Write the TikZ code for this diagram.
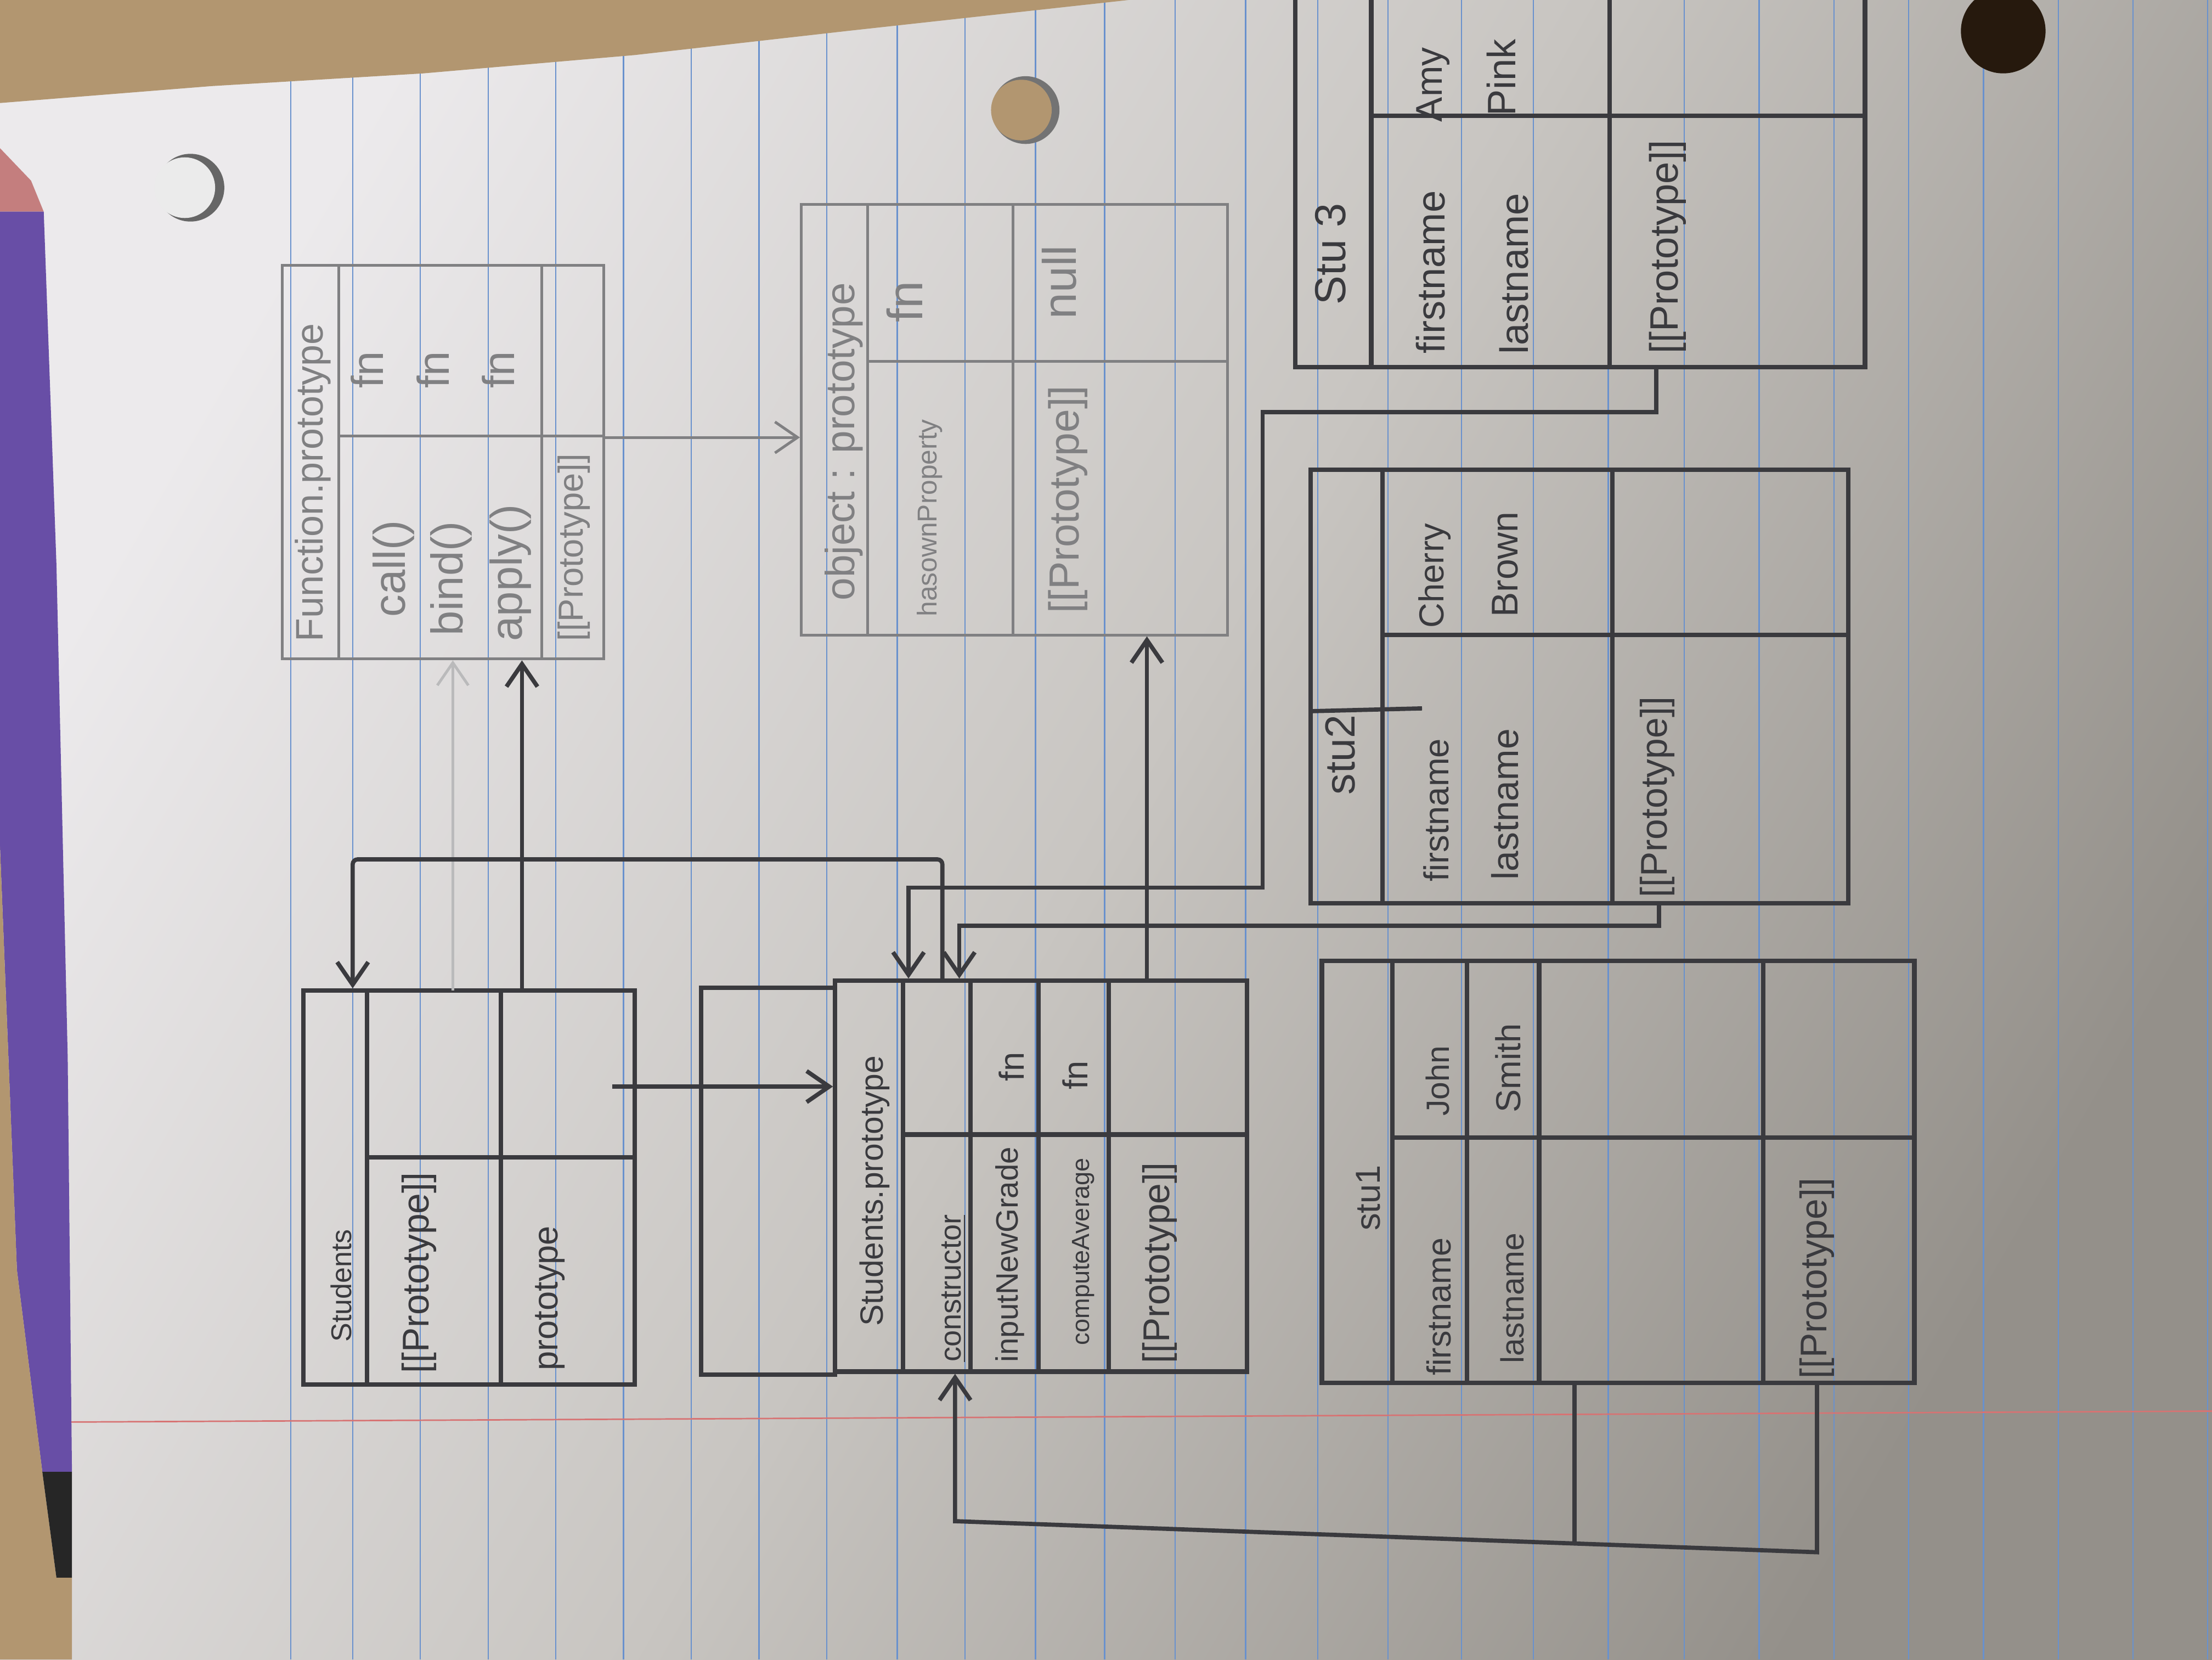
\documentclass[tikz,border=0pt]{standalone}
\usepackage{fontspec}
\setmainfont{Liberation Sans}
\usetikzlibrary{positioning,fit,arrows.meta}
\definecolor{pencil}{RGB}{58,58,62}
\definecolor{pencillight}{RGB}{128,128,130}
\definecolor{paperlight}{RGB}{236,234,236}
\definecolor{papermid}{RGB}{200,197,193}
\definecolor{paperdark}{RGB}{148,144,138}
\definecolor{rulecolor}{RGB}{105,145,205}
\definecolor{margincolor}{RGB}{215,115,115}
\definecolor{deskcolor}{RGB}{178,150,112}
\definecolor{foldercolor}{RGB}{104,78,166}
\definecolor{salmoncolor}{RGB}{196,126,126}
\newcommand{\hand}[1]{\fontsize{#1}{#1}\selectfont}

\begin{document}
\begin{tikzpicture}[
    x=0.2mm, y=-0.2mm,
    cell/.style={draw=pencil, line width=1.8pt, inner sep=0pt},
    lcell/.style={draw=pencillight, line width=1.1pt, inner sep=0pt},
    lbl/.style={rotate=90, text=pencil, inner sep=0pt, font=\hand{14}},
    llbl/.style={lbl, text=pencillight},
    link/.style={draw=pencil, line width=1.7pt},
    arrow/.style={-{Straight Barb[length=3.2mm, width=4.4mm]}, draw=pencil, line width=1.7pt},
    larrow/.style={arrow, draw=pencillight, line width=1.1pt},
    fadedarrow/.style={arrow, draw=pencil!35, line width=1.1pt},
    rule/.style={draw=rulecolor, line width=0.5pt}
]

% Paper, desk and folder
\useasboundingbox (0,0) rectangle (1568,1176);
\clip (0,0) rectangle (1568,1176);
\shade[top color=paperlight, bottom color=paperdark, middle color=papermid, shading angle=60] (0,0) rectangle (1568,1176);
\foreach \rx in {206,250,298,346,394,442,490,538,586,636,684,734,783,833,883,934,984,1036,1087,1140,1194,1247,1300,1353,1406,1459,1512,1565}
    \draw[rule] (\rx,0) -- (\rx,1176);
\draw[margincolor, line width=0.6pt] (0,1008) -- (1568,1000);
\fill[deskcolor] (0,0) -- (800,0) -- (600,22) -- (450,39) -- (300,52) -- (150,61) -- (0,73) -- cycle;
\fill[salmoncolor] (0,105) -- (22,128) -- (31,150) -- (0,150) -- cycle;
\fill[foldercolor] (0,150) -- (31,150) -- (40,400) -- (48,750) -- (51,1043) -- (30,1043) -- (12,900) -- (0,600) -- cycle;
\fill[deskcolor] (0,600) -- (12,900) -- (30,1043) -- (40,1118) -- (51,1118) -- (51,1176) -- (0,1176) -- cycle;
\fill[black!85] (30,1043) -- (51,1043) -- (51,1118) -- (40,1118) -- cycle;
\fill[black!60] (135,133) circle[radius=4.8mm];
\fill[black!8] (131,133) circle[radius=4.3mm];
\fill[black!55] (727,78) circle[radius=4.8mm];
\fill[deskcolor] (724,78) circle[radius=4.3mm];
\fill[black!80!brown] (1420,22) circle[radius=6mm];

% Function.prototype
\node[lcell, fit={(200,188) (240,467)}] (fp_head) {};
\node[lcell, fit={(240,188) (384,309)}] (fp_fn_val) {};
\node[lcell, fit={(240,309) (384,467)}] (fp_fn_key) {};
\node[lcell, fit={(384,188) (428,309)}] (fp_proto_val) {};
\node[lcell, fit={(384,309) (428,467)}] (fp_proto_key) {};
\node[llbl, font=\hand{15.5}] (fp_title) at (222,342) {Function.prototype};
\node[llbl, font=\hand{18}] (fp_call_fn) at (260,262) {fn};
\node[llbl, font=\hand{18}] (fp_bind_fn) at (307,262) {fn};
\node[llbl, font=\hand{18}] (fp_apply_fn) at (353,262) {fn};
\node[llbl, font=\hand{18}] (fp_call) at (279,403) {call()};
\node[llbl, font=\hand{18}] (fp_bind) at (320,410) {bind()};
\node[llbl, font=\hand{18}] (fp_apply) at (362,406) {apply()};
\node[llbl, font=\hand{14}] (fp_proto) at (407,388) {[[Prototype]]};

% Object.prototype
\node[lcell, fit={(568,145) (615,450)}] (op_head) {};
\node[lcell, fit={(615,145) (718,256)}] (op_has_val) {};
\node[lcell, fit={(615,256) (718,450)}] (op_has_key) {};
\node[lcell, fit={(718,145) (870,256)}] (op_proto_val) {};
\node[lcell, fit={(718,256) (870,450)}] (op_proto_key) {};
\node[llbl, font=\hand{16.5}] (op_title) at (598,313) {object : prototype};
\node[llbl, font=\hand{20}] (op_has_fn) at (641,214) {fn};
\node[llbl, font=\hand{11}] (op_has) at (659,367) {hasownProperty};
\node[llbl, font=\hand{19}] (op_null) at (751,200) {null};
\node[llbl, font=\hand{17}] (op_proto) at (757,354) {[[Prototype]]};

% Students
\node[cell, fit={(215,702) (260,981)}] (st_head) {};
\node[cell, fit={(260,702) (355,820)}] (st_proto_val) {};
\node[cell, fit={(260,820) (355,981)}] (st_proto_key) {};
\node[cell, fit={(355,702) (450,820)}] (st_prop_val) {};
\node[cell, fit={(355,820) (450,981)}] (st_prop_key) {};
\node[lbl, font=\hand{11.5}] (st_title) at (242,911) {Students};
\node[lbl, font=\hand{15}] (st_proto) at (297,902) {[[Prototype]]};
\node[lbl, font=\hand{14}] (st_prop) at (390,920) {prototype};

% Students.prototype
\node[cell, fit={(497,700) (592,974)}] (sp_blank) {};
\node[cell, fit={(592,695) (640,972)}] (sp_head) {};
\node[cell, fit={(640,695) (688,804)}] (sp_ctor_val) {};
\node[cell, fit={(640,804) (688,972)}] (sp_ctor_key) {};
\node[cell, fit={(688,695) (736,804)}] (sp_add_val) {};
\node[cell, fit={(688,804) (736,972)}] (sp_add_key) {};
\node[cell, fit={(736,695) (786,804)}] (sp_avg_val) {};
\node[cell, fit={(736,804) (786,972)}] (sp_avg_key) {};
\node[cell, fit={(786,695) (884,804)}] (sp_proto_val) {};
\node[cell, fit={(786,804) (884,972)}] (sp_proto_key) {};
\node[lbl, font=\hand{13}] (sp_title) at (620,844) {Students.prototype};
\node[lbl, font=\hand{12}] (sp_ctor) at (676,913) {\underline{constructor}};
\node[lbl, font=\hand{12.5}] (sp_add) at (716,889) {inputNewGrade};
\node[lbl, font=\hand{14}] (sp_add_fn) at (717,756) {fn};
\node[lbl, font=\hand{10}] (sp_avg) at (768,887) {computeAverage};
\node[lbl, font=\hand{14}] (sp_avg_fn) at (762,762) {fn};
\node[lbl, font=\hand{15}] (sp_proto) at (822,895) {[[Prototype]]};

% stu1
\node[cell, fit={(937,681) (987,980)}] (s1_head) {};
\node[cell, fit={(987,681) (1040,806)}] (s1_first_val) {};
\node[cell, fit={(987,806) (1040,980)}] (s1_first_key) {};
\node[cell, fit={(1040,681) (1091,806)}] (s1_last_val) {};
\node[cell, fit={(1040,806) (1091,980)}] (s1_last_key) {};
\node[cell, fit={(1091,681) (1250,806)}] (s1_empty_val) {};
\node[cell, fit={(1091,806) (1250,980)}] (s1_empty_key) {};
\node[cell, fit={(1250,681) (1357,806)}] (s1_proto_val) {};
\node[cell, fit={(1250,806) (1357,980)}] (s1_proto_key) {};
\node[lbl, font=\hand{14}] (s1_title) at (970,849) {stu1};
\node[lbl, font=\hand{13.5}] (s1_first) at (1020,926) {firstname};
\node[lbl, font=\hand{13}] (s1_last) at (1072,920) {lastname};
\node[lbl, font=\hand{13}] (s1_first_txt) at (1019,766) {John};
\node[lbl, font=\hand{14}] (s1_last_txt) at (1069,757) {Smith};
\node[lbl, font=\hand{15}] (s1_proto) at (1288,906) {[[Prototype]]};

% stu2
\node[cell, fit={(929,333) (980,640)}] (s2_head) {};
\node[cell, fit={(980,333) (1143,450)}] (s2_name_val) {};
\node[cell, fit={(980,450) (1143,640)}] (s2_name_key) {};
\node[cell, fit={(1143,333) (1310,450)}] (s2_proto_val) {};
\node[cell, fit={(1143,450) (1310,640)}] (s2_proto_key) {};
\draw[link] (929,504) -- (1008,502);
\node[lbl, font=\hand{17}] (s2_title) at (950,535) {stu2};
\node[lbl, font=\hand{14}] (s2_first) at (1018,574) {firstname};
\node[lbl, font=\hand{15}] (s2_last) at (1067,570) {lastname};
\node[lbl, font=\hand{14}] (s2_first_txt) at (1017,408) {Cherry};
\node[lbl, font=\hand{15}] (s2_last_txt) at (1067,400) {Brown};
\node[lbl, font=\hand{15}] (s2_proto) at (1175,565) {[[Prototype]]};

% stu3 (top runs off the page)
\node[cell, fit={(918,-20) (972,260)}] (s3_head) {};
\node[cell, fit={(972,-20) (1141,82)}] (s3_name_val) {};
\node[cell, fit={(972,82) (1141,260)}] (s3_name_key) {};
\node[cell, fit={(1141,-20) (1322,82)}] (s3_proto_val) {};
\node[cell, fit={(1141,82) (1322,260)}] (s3_proto_key) {};
\node[lbl, font=\hand{17.5}] (s3_title) at (943,180) {Stu 3};
\node[lbl, font=\hand{16}] (s3_first) at (1014,193) {firstname};
\node[lbl, font=\hand{16}] (s3_last) at (1073,194) {lastname};
\node[lbl, font=\hand{15}] (s3_first_txt) at (1016,60) {Amy};
\node[lbl, font=\hand{16}] (s3_last_txt) at (1064,55) {Pink};
\node[lbl, font=\hand{16}] (s3_proto) at (1182,175) {[[Prototype]]};

% Arrows ([[Prototype]] chain)
\coordinate (st_up_a) at (321,702);
\coordinate (st_up_b) at (370,702);
\draw[fadedarrow] (st_up_a) -- (st_up_a |- fp_fn_key.south);
\draw[arrow] (st_up_b) -- (st_up_b |- fp_fn_key.south);
\draw[larrow] (fp_proto_val.south east) -- (fp_proto_val.south east -| op_head.west);
\coordinate (sp_up) at (813,695);
\draw[arrow] (sp_up) -- (sp_up |- op_proto_key.south);

% Arrows (prototype / constructor)
\coordinate (st_prop_dot) at (434,770);
\draw[arrow] (st_prop_dot) -- (st_prop_dot -| sp_head.west);
\coordinate (ctor_top) at (668,695);
\coordinate (ctor_bend) at (250,609);
\draw[arrow, rounded corners=2pt] (ctor_top) |- (ctor_bend) -- (ctor_bend |- st_head.north);

% Arrows (instances to Students.prototype)
\coordinate (s3_drop) at (1174,260);
\coordinate (s3_bend) at (895,292);
\coordinate (s3_in) at (644,629);
\draw[arrow] (s3_drop) |- (s3_bend) |- (s3_in) -- (s3_in |- sp_ctor_val.north);
\coordinate (s2_drop) at (1176,640);
\coordinate (s2_bend) at (680,656);
\draw[arrow] (s2_drop) |- (s2_bend) -- (s2_bend |- sp_ctor_val.north);
\coordinate (s1_drop) at (1288,980);
\coordinate (s1_low) at (1288,1100);
\coordinate (sp_low) at (677,1078);
\draw[arrow] (s1_drop) -- (s1_low) -- (sp_low) -- (sp_low |- sp_ctor_key.south);
\coordinate (s1_stub) at (1116,980);
\coordinate (s1_stub_end) at (1116,1094);
\draw[link] (s1_stub) -- (s1_stub_end);

\end{tikzpicture}
\end{document}
